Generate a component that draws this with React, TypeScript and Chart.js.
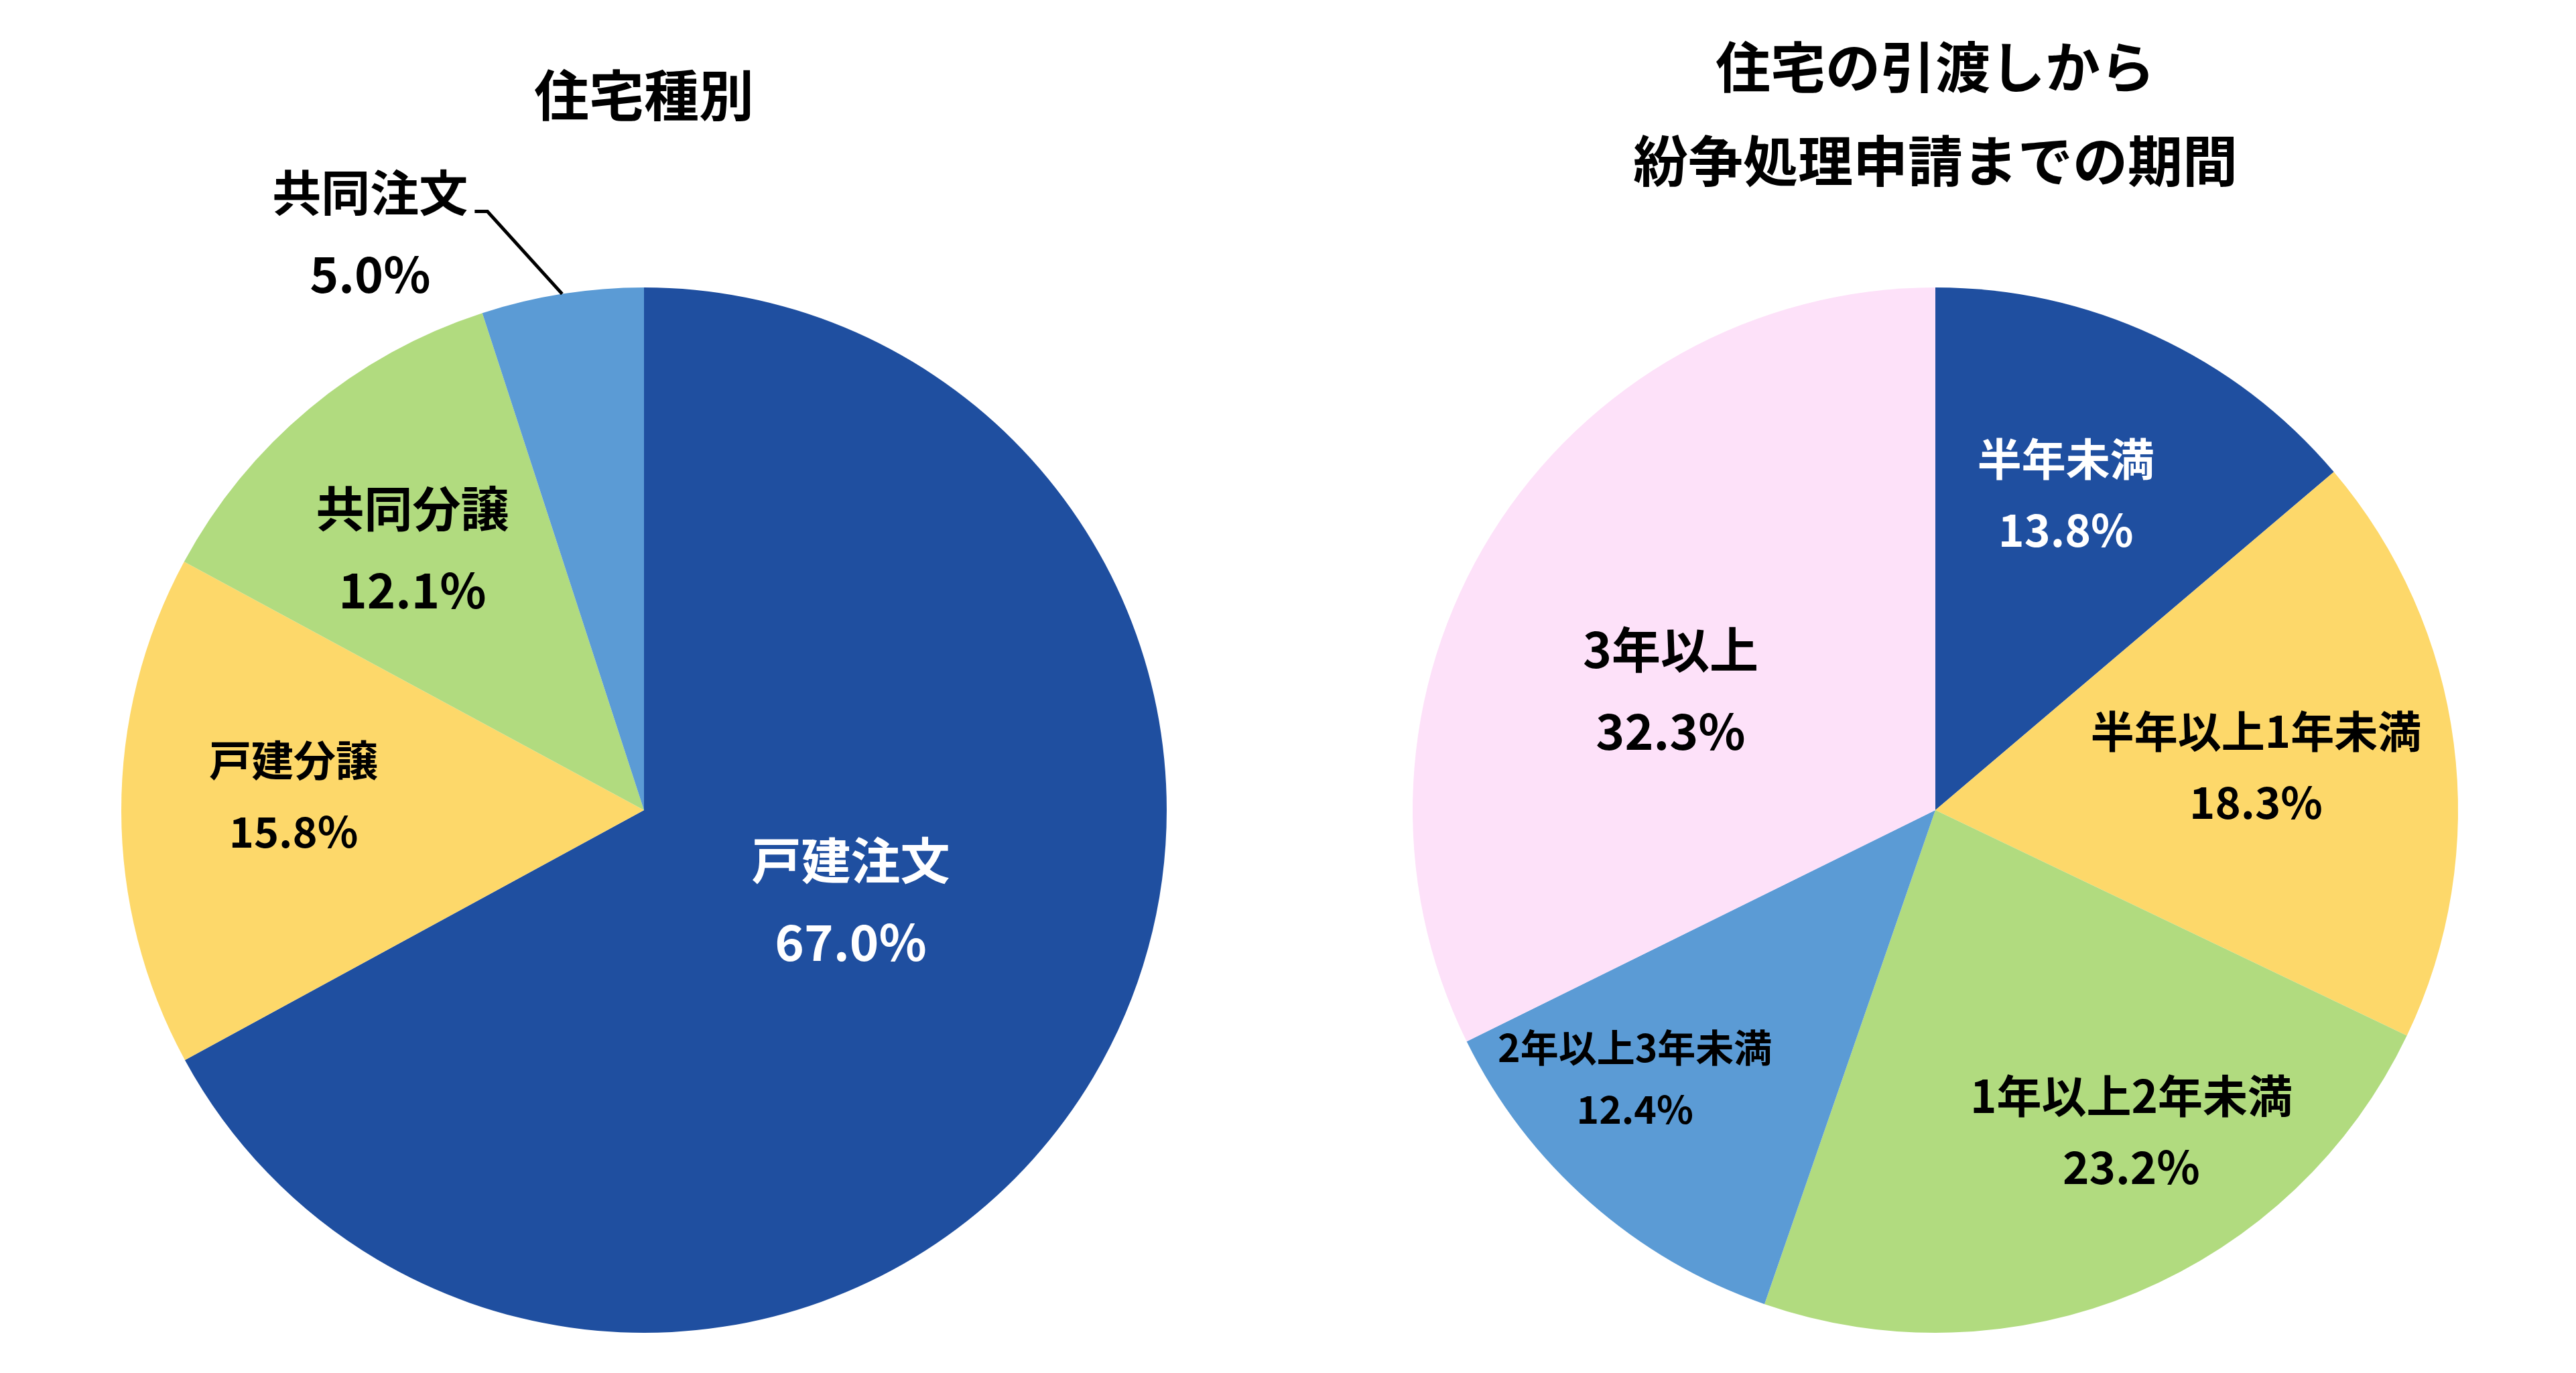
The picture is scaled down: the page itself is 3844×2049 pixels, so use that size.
import React, { useEffect, useRef } from "react";
import { Chart, registerables } from "chart.js";

Chart.register(...registerables);

// ---------- data ----------
const housingTypeTitle = ["住宅種別"];
const housingTypeCategories = ["戸建注文", "戸建分譲", "共同分譲", "共同注文"];
const housingTypeValues = [67.0, 15.8, 12.1, 5.0];

const periodTitle = ["住宅の引渡しから", "紛争処理申請までの期間"];
const periodCategories = ["半年未満", "半年以上1年未満", "1年以上2年未満", "2年以上3年未満", "3年以上"];
const periodValues = [13.8, 18.3, 23.2, 12.4, 32.3];

// ---------- styles ----------
const FONT = '"Noto Sans CJK JP", "Noto Sans CJK SC", sans-serif';
const housingTypeColors = ["#1F4FA0", "#FDD86A", "#B1DB7F", "#5B9BD5"];
const periodColors = ["#1F4FA0", "#FDD86A", "#B1DB7F", "#5B9BD5", "#FDE1F9"];

type LabelStyle = {
  frac: number; // fraction of outer radius
  delta: number; // degrees added to slice mid-angle
  size: number;
  gap: number;
  color: string;
  leader?: number; // degrees offset for leader end on the rim
};

const housingTypeLabelStyles: LabelStyle[] = [
  { frac: 0.432, delta: -7.0, size: 74, gap: 122, color: "#FFFFFF" },
  { frac: 0.671, delta: 2.4, size: 63, gap: 107, color: "#000000" },
  { frac: 0.667, delta: -1.8, size: 72, gap: 122, color: "#000000" },
  { frac: 1.221, delta: -16.4, size: 73, gap: 122, color: "#000000", leader: 0 },
];

const periodLabelStyles: LabelStyle[] = [
  { frac: 0.654, delta: -2.4, size: 66, gap: 106, color: "#FFFFFF" },
  { frac: 0.619, delta: -0.3, size: 65, gap: 106, color: "#000000" },
  { frac: 0.72, delta: -8.7, size: 67, gap: 106, color: "#000000" },
  { frac: 0.771, delta: 6.8, size: 57, gap: 92, color: "#000000" },
  { frac: 0.556, delta: -7.5, size: 73, gap: 122, color: "#000000" },
];

const housingTypeTitleStyle = { size: 82, lineHeight: "96px", padTop: 94, padBottom: 239, padLeft: 0 };
const periodTitleStyle = { size: 82, lineHeight: "140px", padTop: 30, padBottom: 119, padLeft: 10 };

const CANVAS_W = 1922;
const CANVAS_H = 2049;

function makeLabelPlugin(styles: LabelStyle[]) {
  return {
    id: "sliceLabels",
    afterDatasetsDraw(chart: any) {
      const ctx = chart.ctx as CanvasRenderingContext2D;
      const meta = chart.getDatasetMeta(0);
      const labels = chart.data.labels as string[];
      const values = chart.data.datasets[0].data as number[];
      const deg = Math.PI / 180;
      meta.data.forEach((arc: any, i: number) => {
        const s = styles[i];
        if (!s) return;
        const { x, y, startAngle, endAngle, outerRadius } = arc.getProps(
          ["x", "y", "startAngle", "endAngle", "outerRadius"],
          true
        );
        const mid = (startAngle + endAngle) / 2;
        const a = mid + s.delta * deg;
        const lx = x + Math.cos(a) * outerRadius * s.frac;
        const ly = y + Math.sin(a) * outerRadius * s.frac;
        const y1 = ly - s.gap / 2;
        const y2 = ly + s.gap / 2;
        ctx.save();
        ctx.fillStyle = s.color;
        ctx.textAlign = "center";
        ctx.textBaseline = "middle";
        ctx.font = `bold ${s.size}px ${FONT}`;
        const name = labels[i];
        ctx.fillText(name, lx, y1);
        ctx.fillText(values[i].toFixed(1) + "%", lx, y2);
        if (s.leader !== undefined) {
          const w = ctx.measureText(name).width;
          const sx = lx + w / 2 + 10;
          const sy = y1 + 0.38 * s.size;
          const ea = mid + s.leader * deg;
          const ex = x + Math.cos(ea) * outerRadius;
          const ey = y + Math.sin(ea) * outerRadius;
          ctx.strokeStyle = "#000000";
          ctx.lineWidth = 5;
          ctx.beginPath();
          ctx.moveTo(sx, sy);
          ctx.lineTo(sx + 19, sy);
          ctx.lineTo(ex, ey);
          ctx.stroke();
        }
        ctx.restore();
      });
    },
  };
}

type PieProps = {
  title: string[];
  categories: string[];
  values: number[];
  colors: string[];
  labelStyles: LabelStyle[];
  titleStyle: { size: number; lineHeight: string; padTop: number; padBottom: number; padLeft: number };
};

function PieChart({ title, categories, values, colors, labelStyles, titleStyle }: PieProps) {
  const ref = useRef<HTMLCanvasElement>(null);
  useEffect(() => {
    if (!ref.current) return;
    const chart = new Chart(ref.current, {
      type: "pie",
      data: {
        labels: categories,
        datasets: [
          {
            data: values,
            backgroundColor: colors,
            borderWidth: 0,
            hoverOffset: 0,
            offset: 0,
          } as any,
        ],
      },
      options: {
        responsive: false,
        maintainAspectRatio: false,
        animation: false,
        events: [],
        layout: { padding: { top: 0, bottom: 60, left: titleStyle.padLeft, right: 0 } },
        plugins: {
          legend: { display: false },
          tooltip: { enabled: false },
          title: {
            display: true,
            text: title,
            color: "#000000",
            font: { family: FONT, size: titleStyle.size, weight: "bold", lineHeight: titleStyle.lineHeight },
            padding: { top: titleStyle.padTop, bottom: titleStyle.padBottom },
          },
        },
      } as any,
      plugins: [makeLabelPlugin(labelStyles)],
    });
    return () => chart.destroy();
  }, []);
  return (
    <canvas
      ref={ref}
      width={CANVAS_W}
      height={CANVAS_H}
      style={{ width: CANVAS_W, height: CANVAS_H, display: "block" }}
    />
  );
}

export default function App() {
  return (
    <div
      style={{
        position: "absolute",
        left: 0,
        top: 0,
        width: 3844,
        height: 2049,
        background: "#FFFFFF",
        display: "flex",
        overflow: "hidden",
      }}
    >
      <PieChart
        title={housingTypeTitle}
        categories={housingTypeCategories}
        values={housingTypeValues}
        colors={housingTypeColors}
        labelStyles={housingTypeLabelStyles}
        titleStyle={housingTypeTitleStyle}
      />
      <PieChart
        title={periodTitle}
        categories={periodCategories}
        values={periodValues}
        colors={periodColors}
        labelStyles={periodLabelStyles}
        titleStyle={periodTitleStyle}
      />
    </div>
  );
}
